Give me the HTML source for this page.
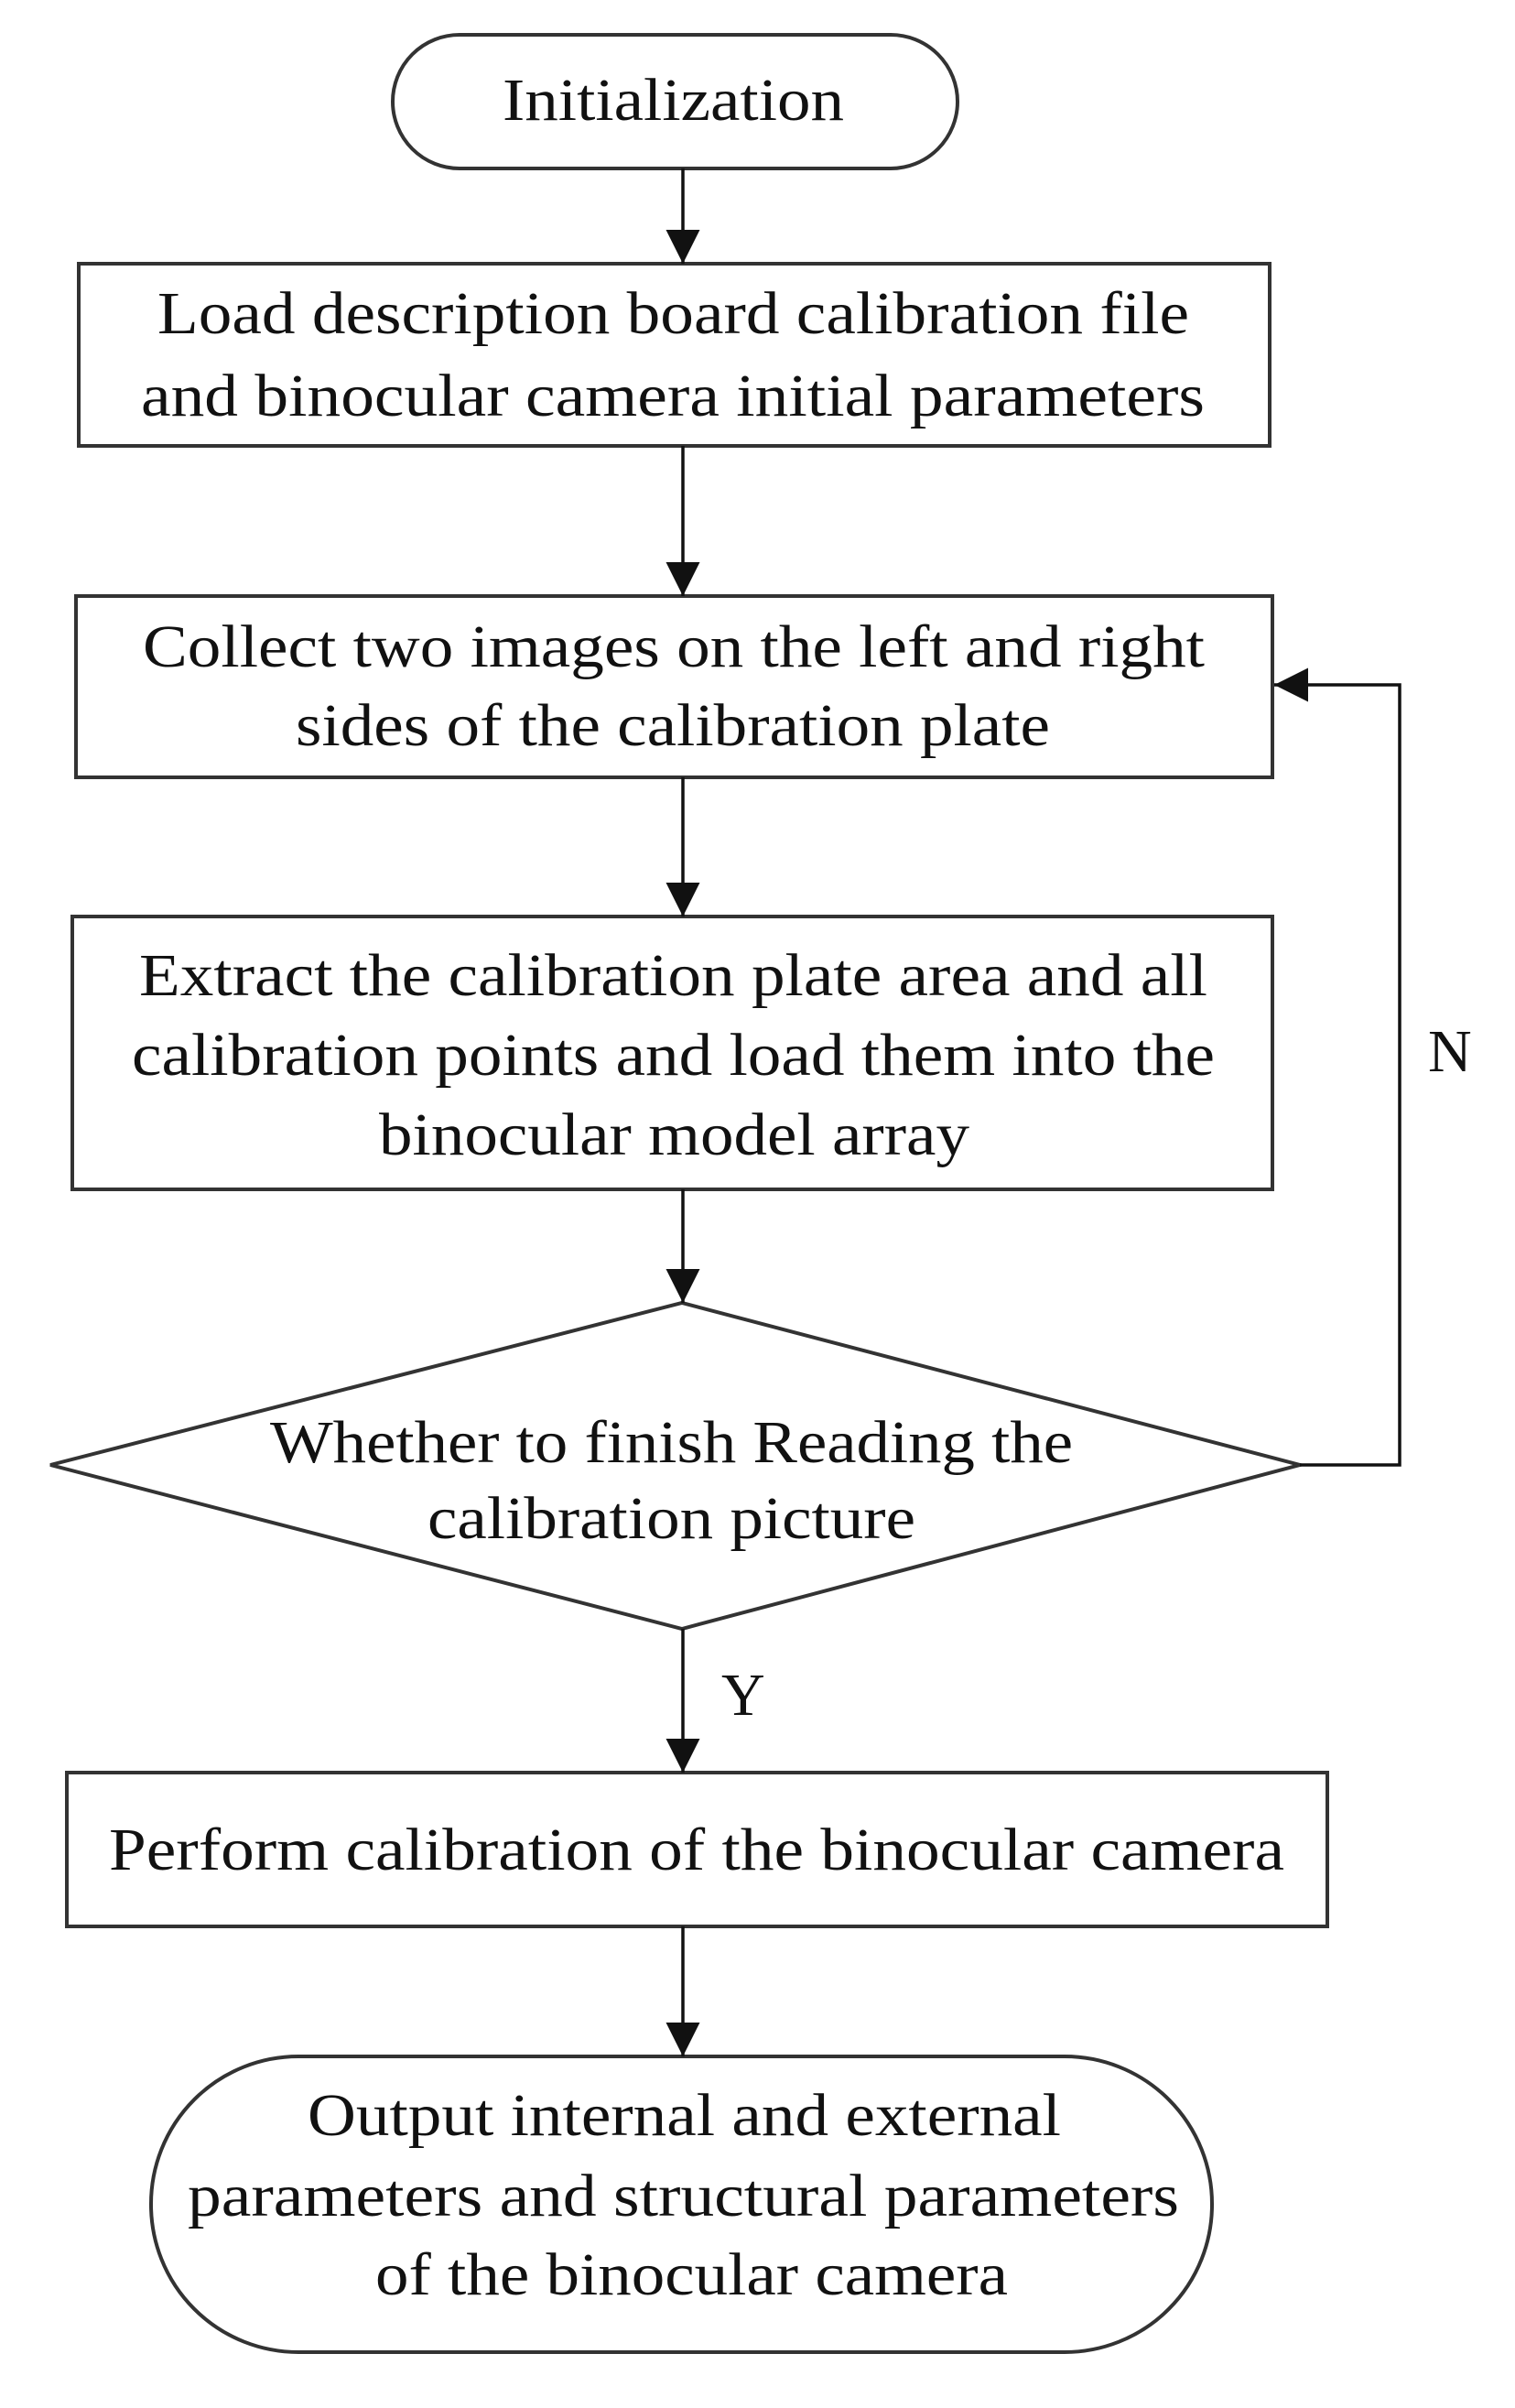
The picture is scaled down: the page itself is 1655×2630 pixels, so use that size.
<!DOCTYPE html>
<html><head><meta charset="utf-8"><style>html,body{margin:0;padding:0;background:#fff}svg{display:block}</style></head>
<body>
<svg width="1655" height="2630" viewBox="0 0 1655 2630" xmlns="http://www.w3.org/2000/svg" font-family="'Liberation Serif', serif" font-size="66" fill="#111">
<defs><marker id="a" markerWidth="37" markerHeight="37" refX="37" refY="18.5" orient="auto" markerUnits="userSpaceOnUse"><path d="M0,0 L37,18.5 L0,37 Z" fill="#111"/></marker></defs>
<g stroke="#333" stroke-width="4" fill="none">
<rect x="429" y="38" width="617" height="146" rx="73"/>
<rect x="86" y="288" width="1301" height="199"/>
<rect x="83" y="651" width="1307" height="198"/>
<rect x="79" y="1001" width="1311" height="298"/>
<polygon points="55,1600 745,1423 1420,1600 745,1779"/>
<rect x="73" y="1936" width="1377" height="168"/>
<rect x="165" y="2246" width="1159" height="323" rx="161"/>
</g>
<g stroke="#111" stroke-width="3.5" fill="none" marker-end="url(#a)">
<line x1="746" y1="184" x2="746" y2="288"/>
<line x1="746" y1="487" x2="746" y2="651"/>
<line x1="746" y1="849" x2="746" y2="1001"/>
<line x1="746" y1="1299" x2="746" y2="1423"/>
<line x1="746" y1="1779" x2="746" y2="1936"/>
<line x1="746" y1="2104" x2="746" y2="2246"/>
<polyline points="1420,1600 1529,1600 1529,748 1392,748"/>
</g>
<g lengthAdjust="spacingAndGlyphs">
<text x="549" y="131" textLength="373" lengthAdjust="spacingAndGlyphs">Initialization</text>
<text x="172" y="364" textLength="1127" lengthAdjust="spacingAndGlyphs">Load description board calibration file</text>
<text x="154" y="454" textLength="1162" lengthAdjust="spacingAndGlyphs">and binocular camera initial parameters</text>
<text x="156" y="728" textLength="1160" lengthAdjust="spacingAndGlyphs">Collect two images on the left and right</text>
<text x="323" y="814" textLength="824" lengthAdjust="spacingAndGlyphs">sides of the calibration plate</text>
<text x="152" y="1087" textLength="1167" lengthAdjust="spacingAndGlyphs">Extract the calibration plate area and all</text>
<text x="144" y="1174" textLength="1183" lengthAdjust="spacingAndGlyphs">calibration points and load them into the</text>
<text x="414" y="1261" textLength="645" lengthAdjust="spacingAndGlyphs">binocular model array</text>
<text x="295" y="1597" textLength="877" lengthAdjust="spacingAndGlyphs">Whether to finish Reading the</text>
<text x="467" y="1680" textLength="533" lengthAdjust="spacingAndGlyphs">calibration picture</text>
<text x="119" y="2042" textLength="1284" lengthAdjust="spacingAndGlyphs">Perform calibration of the binocular camera</text>
<text x="336" y="2332" textLength="823" lengthAdjust="spacingAndGlyphs">Output internal and external</text>
<text x="205" y="2420" textLength="1083" lengthAdjust="spacingAndGlyphs">parameters and structural parameters</text>
<text x="410" y="2506" textLength="691" lengthAdjust="spacingAndGlyphs">of the binocular camera</text>
<text x="1560" y="1170">N</text>
<text x="788" y="1873">Y</text>
</g>
</svg>
</body></html>
